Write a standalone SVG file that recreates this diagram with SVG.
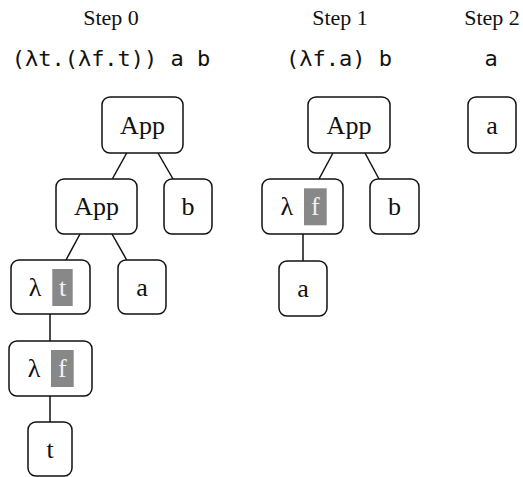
<svg xmlns="http://www.w3.org/2000/svg" width="523" height="477" viewBox="0 0 523 477">
  <style>
    .title { font-family: "Liberation Serif", serif; font-size: 22px; fill: #111; text-anchor: middle; }
    .expr { font-family: "DejaVu Sans Mono", monospace; font-size: 22px; fill: #111; text-anchor: middle; }
    .box { fill: #fff; stroke: #111; stroke-width: 1.5; }
    .lbl { font-family: "Liberation Serif", serif; font-size: 26px; fill: #111; text-anchor: middle; }
    .var { fill: #888888; }
    .vlbl { font-family: "Liberation Serif", serif; font-size: 26px; fill: #f2f2f2; text-anchor: middle; }
    .edge { stroke: #111; stroke-width: 1.5; fill: none; }
  </style>

  <!-- column headings and expressions -->
  <g id="headings">
    <text class="title" x="111" y="25">Step 0</text>
    <text class="title" x="340" y="25">Step 1</text>
    <text class="title" x="492" y="25">Step 2</text>
    <text class="expr" x="111" y="66">(λt.(λf.t)) a b</text>
    <text class="expr" x="339" y="66">(λf.a) b</text>
    <text class="expr" x="491" y="66">a</text>
  </g>

  <!-- tree edges -->
  <g id="connectors">
    <line class="edge" x1="126.7" y1="153" x2="112.3" y2="179"/>
    <line class="edge" x1="158" y1="153" x2="173" y2="179"/>
    <line class="edge" x1="80" y1="234" x2="66" y2="260"/>
    <line class="edge" x1="112" y1="234" x2="126.7" y2="260"/>
    <line class="edge" x1="50" y1="314" x2="50" y2="341"/>
    <line class="edge" x1="50" y1="396" x2="50" y2="422"/>
    <line class="edge" x1="333" y1="153" x2="319" y2="179"/>
    <line class="edge" x1="365" y1="153" x2="379" y2="179"/>
    <line class="edge" x1="303" y1="234" x2="303" y2="261"/>
  </g>

  <!-- step 0 -->
  <g id="s0-app">
    <rect class="box" x="102" y="97" width="81" height="56" rx="8"/>
    <text class="lbl" x="142.5" y="133.5">App</text>
  </g>
  <g id="s0-app-inner">
    <rect class="box" x="56" y="179" width="81" height="55" rx="8"/>
    <text class="lbl" x="96.5" y="215">App</text>
  </g>
  <g id="s0-b">
    <rect class="box" x="164" y="179" width="48" height="55" rx="8"/>
    <text class="lbl" x="188" y="215">b</text>
  </g>
  <g id="s0-lam-t">
    <rect class="box" x="11" y="260" width="79" height="54" rx="8"/>
    <text class="lbl" x="35" y="296">λ</text>
    <rect class="var" x="52.3" y="269" width="20.4" height="37"/>
    <text class="vlbl" x="62.5" y="296">t</text>
  </g>
  <g id="s0-a">
    <rect class="box" x="118" y="260" width="48" height="54" rx="8"/>
    <text class="lbl" x="142" y="296">a</text>
  </g>
  <g id="s0-lam-f">
    <rect class="box" x="9" y="341" width="83" height="55" rx="8"/>
    <text class="lbl" x="34" y="377">λ</text>
    <rect class="var" x="51" y="350" width="22.7" height="37"/>
    <text class="vlbl" x="62.3" y="377">f</text>
  </g>
  <g id="s0-t">
    <rect class="box" x="28" y="422" width="44" height="54" rx="8"/>
    <text class="lbl" x="50" y="458">t</text>
  </g>

  <!-- step 1 -->
  <g id="s1-app">
    <rect class="box" x="308" y="97" width="82" height="56" rx="8"/>
    <text class="lbl" x="349" y="133.5">App</text>
  </g>
  <g id="s1-lam-f">
    <rect class="box" x="262" y="179" width="81" height="55" rx="8"/>
    <text class="lbl" x="286.7" y="215">λ</text>
    <rect class="var" x="304" y="188.3" width="22.7" height="37"/>
    <text class="vlbl" x="315.3" y="215">f</text>
  </g>
  <g id="s1-b">
    <rect class="box" x="370" y="179" width="49" height="55" rx="8"/>
    <text class="lbl" x="394.5" y="215">b</text>
  </g>
  <g id="s1-a">
    <rect class="box" x="279" y="261" width="48" height="55" rx="8"/>
    <text class="lbl" x="303" y="297">a</text>
  </g>

  <!-- step 2 -->
  <g id="s2-a">
    <rect class="box" x="468" y="97" width="48" height="56" rx="8"/>
    <text class="lbl" x="492" y="133.5">a</text>
  </g>
</svg>
